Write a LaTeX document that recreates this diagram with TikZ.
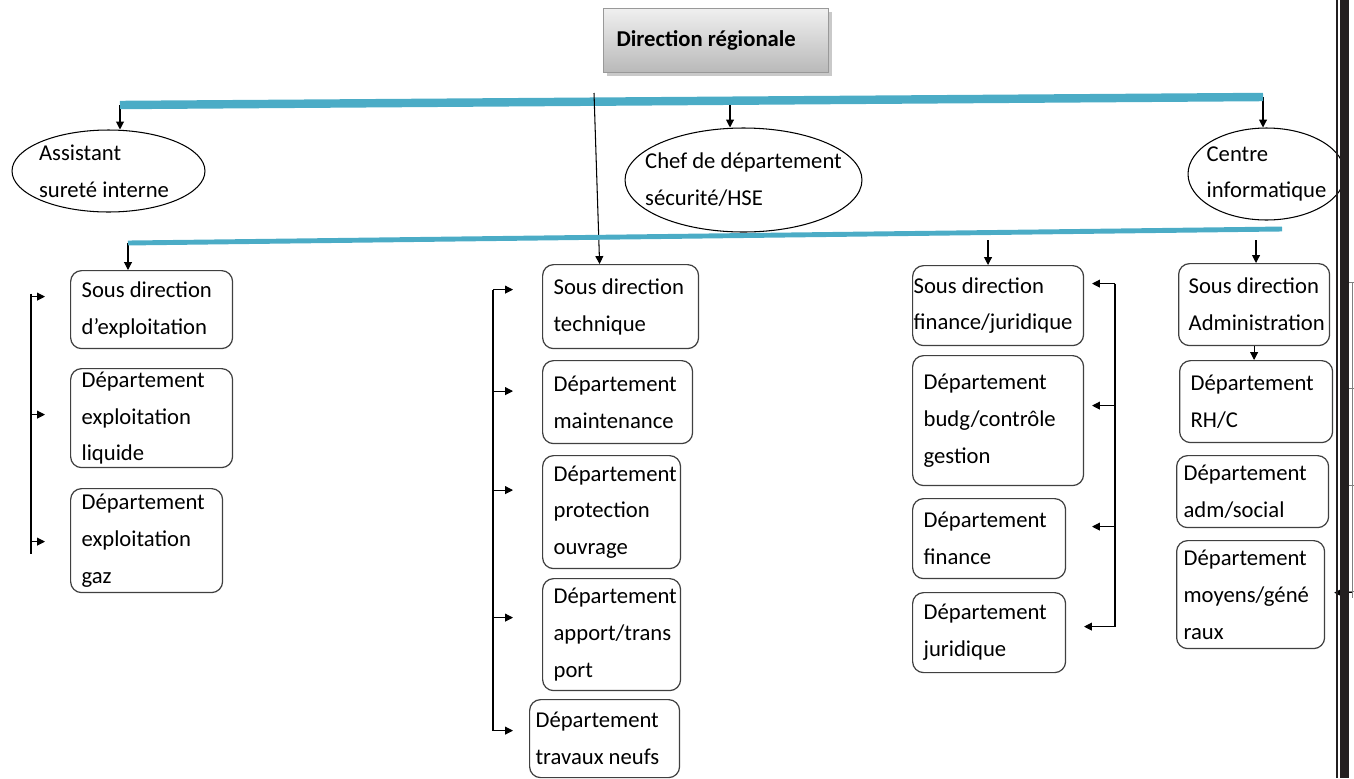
\documentclass[tikz,border=0pt]{standalone}
\usepackage{fontspec}
\newfontfamily\carlito{Carlito}
\usepackage{tikz}
\usetikzlibrary{arrows.meta}
\usetikzlibrary{shapes.geometric}
\usetikzlibrary{shadows}
\usetikzlibrary{calc}
\definecolor{bleuC}{RGB}{75,172,198}
\definecolor{noirB}{RGB}{35,31,32}
\newcommand{\police}{\carlito\fontsize{12.9}{21}\selectfont\hyphenpenalty=10000 }

\begin{document}
\begin{tikzpicture}[x=0.02cm, y=-0.02cm,
boite/.style={draw=black!75, line width=0.7pt, rounded corners=0.22cm, anchor=north west, align=flush left, inner xsep=0.22cm, inner ysep=0pt, font=\police},
bulle/.style={draw, ellipse, line width=0.6pt, inner sep=0pt},
texte/.style={align=flush left, font=\police},
fleche/.style={-{Triangle[length=4.5pt,width=4.5pt]}, line width=0.6pt},
barre/.style={bleuC, line width=4.8pt},
barrefine/.style={bleuC, line width=2.8pt}]
\useasboundingbox (0,0) rectangle (1354,778);
\node[draw=gray!80, line width=0.6pt, top color=gray!12, bottom color=gray!55, drop shadow={shadow xshift=0.07cm, shadow yshift=-0.07cm, fill=gray!85}, minimum height=1.28cm, text width=3.98cm, inner xsep=0.26cm, align=flush left, font=\police\bfseries, anchor=north west] (dr) at (603,8) {\raisebox{-0.07cm}{Direction régionale}};
\node[bulle, minimum width=3.86cm, minimum height=1.64cm, label={[texte, xshift=-0.09cm]center:{Assistant\\sureté interne}}] (assist) at (108.5,171) {};
\node[bulle, minimum width=4.74cm, minimum height=2.08cm, label={[texte]center:{Chef de département\\sécurité/HSE}}] (chef) at (743.5,180) {};
\node[bulle, minimum width=3.14cm, minimum height=1.84cm, label={[texte]center:{Centre\\informatique}}] (info) at (1266.5,174) {};
\node[boite, text width=2.80cm, minimum height=1.56cm] (sdexp) at (70,270) {Sous direction\\d’exploitation};
\node[boite, text width=2.80cm, minimum height=1.98cm] (dliq) at (70,368) {Département\\exploitation\\liquide};
\node[boite, text width=2.60cm, minimum height=2.08cm] (dgaz) at (70,488) {Département\\exploitation\\gaz};
\node[boite, text width=2.68cm, minimum height=1.68cm] (tech) at (542,264) {Sous direction\\technique};
\node[boite, text width=2.56cm, minimum height=1.66cm] (maint) at (542,360) {Département\\maintenance};
\node[boite, text width=2.32cm, minimum height=2.26cm] (prot) at (542,455) {Département\\protection\\ouvrage};
\node[boite, text width=2.32cm, minimum height=2.24cm] (appo) at (542,578) {Département\\apport/trans\\port};
\node[boite, inner xsep=0.12cm, text width=2.76cm, minimum height=1.56cm] (trav) at (529,699) {Département\\travaux neufs};
\node[boite, inner xsep=0.02cm, text width=3.38cm, minimum height=1.6cm] (fin) at (912,265) {Sous direction\\finance/juridique};
\node[boite, text width=2.98cm, minimum height=2.6cm] (budg) at (912,355) {Département\\budg/contrôle\\gestion};
\node[boite, text width=2.62cm, minimum height=1.6cm] (dfin) at (912,498) {Département\\finance};
\node[boite, text width=2.62cm, minimum height=1.6cm] (djur) at (912,592) {Département\\juridique};
\node[boite, inner xsep=0.2cm, text width=2.62cm, minimum height=1.64cm] (adm) at (1178,263) {Sous direction\\Administration};
\node[boite, text width=2.62cm, minimum height=1.64cm] (rh) at (1179,360) {Département\\RH/C};
\node[boite, inner xsep=0.14cm, text width=2.76cm, minimum height=1.44cm] (soc) at (1176,455) {Département\\adm/social};
\node[boite, inner xsep=0.14cm, text width=2.68cm, minimum height=2.16cm] (moy) at (1176,540) {Département\\moyens/géné\\raux};
\coordinate (bA) at (120,105);
\coordinate (bM) at (730,101);
\coordinate (bB) at (1263,97);
\draw[fleche] (bA) -- (bA |- assist.north);
\draw[fleche] (bM) -- (bM |- chef.north);
\draw[fleche] (bB) -- (bB |- info.north);
\draw[barre] (bA) -- (bB);
\coordinate (hT) at (594,93);
\draw[fleche] (hT) -- ($(tech.north)+(-21,0)$);
\coordinate (cA) at (128,243);
\coordinate (cB) at (1282,229);
\coordinate (cF) at (988,240);
\coordinate (cE) at (1256,240);
\draw[fleche] (cA) -- (cA |- sdexp.north);
\draw[barrefine] (cA) -- (cB);
\draw[fleche] (cF) -- (cF |- fin.north);
\draw[fleche] (cE) -- (cE |- adm.north);
\draw[fleche] (adm.south) -- (adm.south |- rh.north);
\coordinate (sG) at (31,0);
\draw[line width=0.6pt] ($(sG |- sdexp.west)+(0,-16)$) -- ($(sG |- dgaz.west)+(0,13)$);
\foreach \n/\d in {sdexp/-13, dliq/-3.5, dgaz/1}
\draw[fleche] ($(sG |- \n.west)+(0,\d)$) -- ++(14,0);
\coordinate (sT) at (493,0);
\draw[line width=0.6pt] ($(sT |- tech.west)+(0,-17)$) -- ($(sT |- trav.west)+(0,-8)$);
\foreach \n/\d in {tech/-17, maint/-11, prot/-22, appo/-17, trav/-8}
\draw[fleche] ($(sT |- \n.west)+(0,\d)$) -- ++(20,0);
\coordinate (sF) at (1115,0);
\draw[line width=0.6pt] ($(sF |- fin.east)+(0,-22)$) -- ($(sF |- djur.east)+(0,-6)$);
\foreach \n/\d/\l in {fin/-22/23, budg/-15/23, dfin/-12/23, djur/-6/31}
\draw[fleche] ($(sF |- \n.east)+(0,\d)$) -- ++(-\l,0);
\coordinate (sR) at (1352,0);
\draw[gray, line width=0.5pt] ($(sR |- adm.east)+(0,-22)$) -- ($(sR |- moy.east)+(0,3)$);
\foreach \y in {282,388,485,591}
\draw[gray, line width=0.5pt] (1349,\y) -- (1354,\y);
\draw[fleche] ($(sR |- moy.east)+(0,-2)$) -- ($(moy.east)+(9,-2)$);
\fill[noirB] (1340,0) rectangle (1349,778);
\draw[noirB, line width=1.1pt] (1337,0) -- (1337,778);
\end{tikzpicture}
\end{document}
